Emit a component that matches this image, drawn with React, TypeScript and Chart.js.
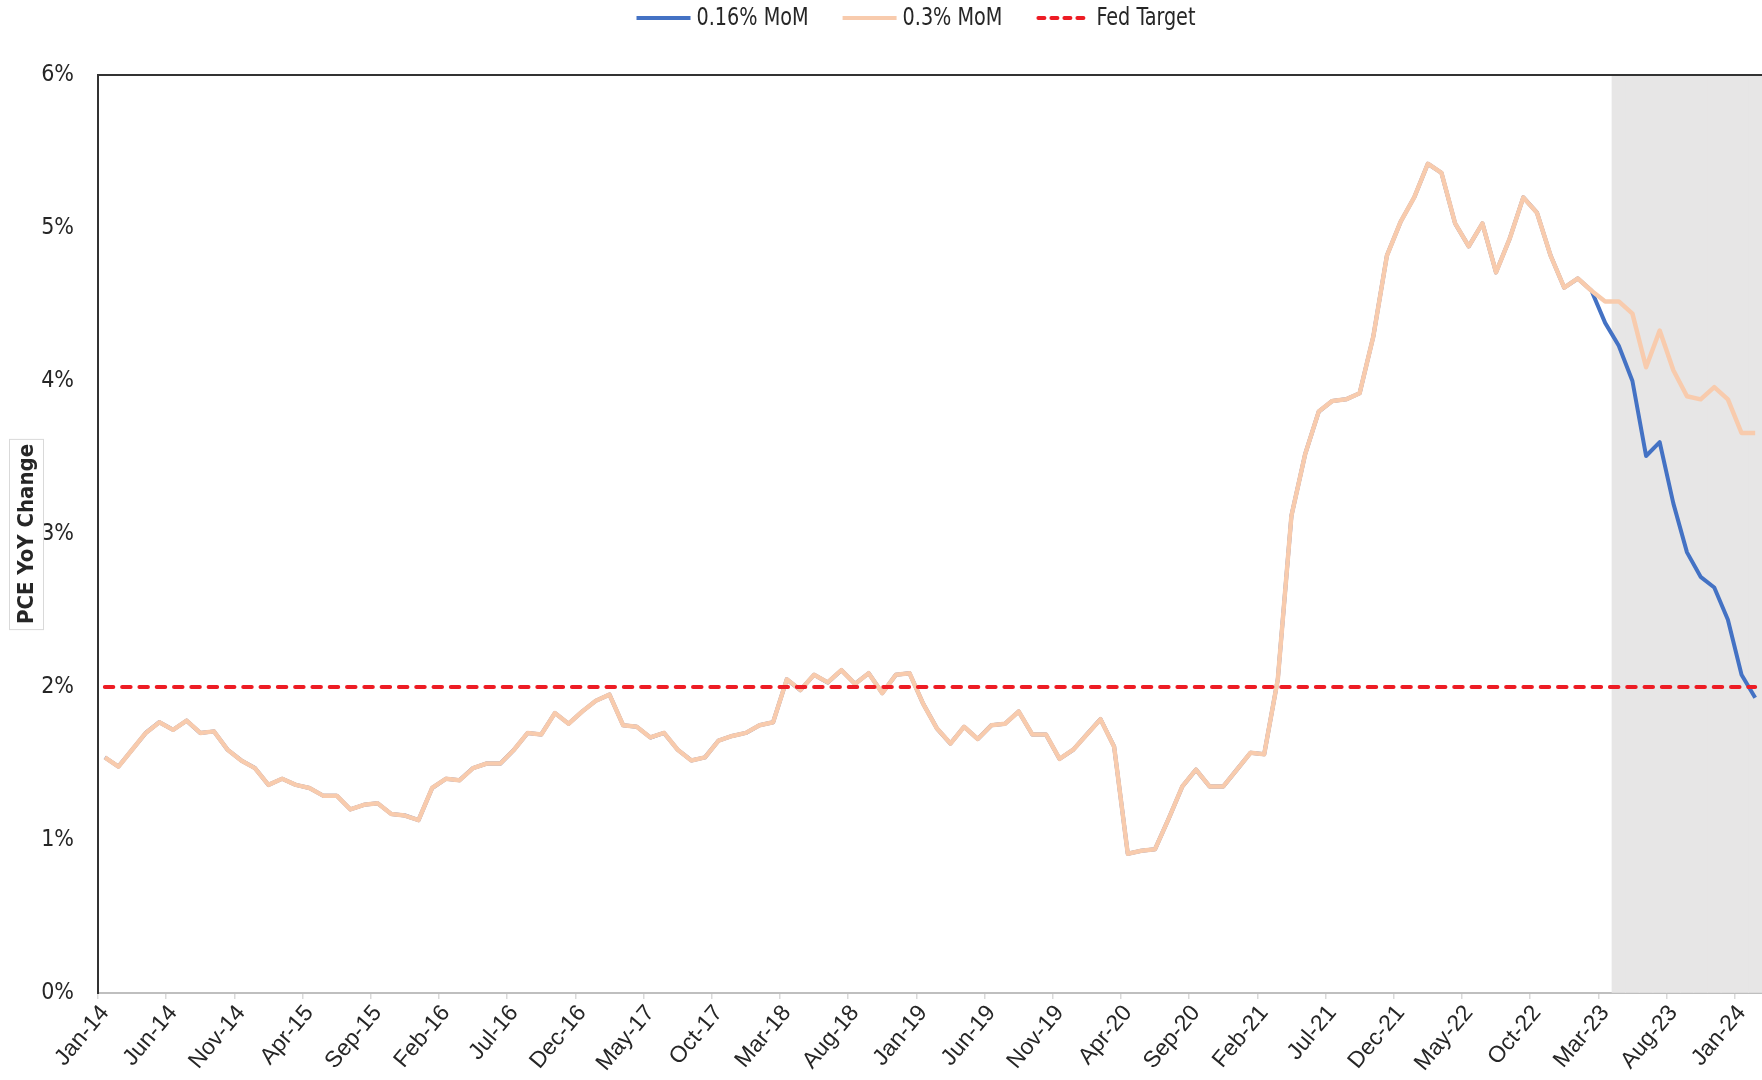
import React, { useEffect, useRef } from "react";
import { Chart, registerables } from "chart.js";

Chart.register(...registerables);

const NARROW = "'Liberation Sans Narrow', 'DejaVu Sans Condensed', 'Roboto Condensed', 'Liberation Sans', sans-serif";
const REGULAR = "'Liberation Sans', Arial, sans-serif";

const MONTHS = ["Jan", "Feb", "Mar", "Apr", "May", "Jun", "Jul", "Aug", "Sep", "Oct", "Nov", "Dec"];
const YEARS = ["14", "15", "16", "17", "18", "19", "20", "21", "22", "23", "24"];
const LAST_LABEL = "Feb-24";

const LABELS: string[] = [];
outer: for (const y of YEARS) {
  for (const m of MONTHS) {
    LABELS.push(`${m}-${y}`);
    if (`${m}-${y}` === LAST_LABEL) break outer;
  }
}

// Jan-14 .. Feb-23 (shared history)
const HISTORY = [
  1.54, 1.48, 1.59, 1.70, 1.77, 1.72, 1.78, 1.70, 1.71, 1.59, 1.52, 1.47,
  1.36, 1.40, 1.36, 1.34, 1.29, 1.29, 1.20, 1.23, 1.24, 1.17, 1.16, 1.13,
  1.34, 1.40, 1.39, 1.47, 1.50, 1.50, 1.59, 1.70, 1.69, 1.83, 1.76, 1.84,
  1.91, 1.95, 1.75, 1.74, 1.67, 1.70, 1.59, 1.52, 1.54, 1.65, 1.68, 1.70,
  1.75, 1.77, 2.05, 1.98, 2.08, 2.03, 2.11, 2.02, 2.09, 1.96, 2.08, 2.09,
  1.89, 1.73, 1.63, 1.74, 1.66, 1.75, 1.76, 1.84, 1.69, 1.69, 1.53, 1.59,
  1.69, 1.79, 1.61, 0.91, 0.93, 0.94, 1.14, 1.35, 1.46, 1.35, 1.35, 1.46,
  1.57, 1.56, 2.05, 3.12, 3.52, 3.80, 3.87, 3.88, 3.92, 4.29, 4.82, 5.04,
  5.20, 5.42, 5.36, 5.03, 4.88, 5.03, 4.71, 4.93, 5.20, 5.10, 4.82, 4.61,
  4.67, 4.59,
];

// Mar-23 .. Feb-24
const BLUE_FORECAST = [4.38, 4.23, 4.00, 3.51, 3.60, 3.20, 2.88, 2.72, 2.65, 2.44, 2.08, 1.93];
const PEACH_FORECAST = [4.52, 4.52, 4.44, 4.09, 4.33, 4.07, 3.90, 3.88, 3.96, 3.88, 3.66, 3.66];

const FED_TARGET = 2;
const SHADE_START = "Apr-23";
const Y_MIN = 0;
const Y_MAX = 6;
const Y_STEP = 1;
const X_LABEL_EVERY = 5;

const BLUE_SERIES = [...HISTORY, ...BLUE_FORECAST];
const PEACH_SERIES = [...HISTORY, ...PEACH_FORECAST];
const FED_SERIES = LABELS.map(() => FED_TARGET);
const shadeIdx = LABELS.indexOf(SHADE_START);
const SHADE_SERIES = LABELS.map((_, i) => (i >= shadeIdx ? Y_MAX : null));

const legendPlugin = {
  id: "customLegend",
  afterDraw(chart: any) {
    const ctx = chart.ctx as CanvasRenderingContext2D;
    const items = chart.data.datasets.filter((d: any) => d.showInLegend);
    ctx.save();
    ctx.font = `24px ${NARROW}`;
    const sx = 0.89;
    const lineLen = 54;
    const gapText = 6;
    const gapItem = 34;
    const widths = items.map((d: any) => lineLen + gapText + ctx.measureText(d.label).width * sx);
    const total = widths.reduce((a: number, b: number) => a + b, 0) + gapItem * (items.length - 1);
    const center = (chart.width + 70) / 2;
    let x = center - total / 2;
    const y = 18;
    items.forEach((d: any, i: number) => {
      ctx.beginPath();
      ctx.setLineDash(d.legendDash || []);
      ctx.lineWidth = 4;
      ctx.lineCap = d.legendDash ? "round" : "butt";
      ctx.strokeStyle = d.borderColor;
      ctx.moveTo(x + (d.legendDash ? 2 : 0), y);
      ctx.lineTo(x + lineLen, y);
      ctx.stroke();
      ctx.setLineDash([]);
      ctx.fillStyle = "#262626";
      ctx.textBaseline = "middle";
      ctx.textAlign = "left";
      ctx.save();
      ctx.translate(x + lineLen + gapText, y + 1);
      ctx.scale(sx, 1);
      ctx.fillText(d.label, 0, 0);
      ctx.restore();
      x += widths[i] + gapItem;
    });
    ctx.restore();
  },
};

const framePlugin = {
  id: "frame",
  afterDraw(chart: any) {
    const ctx = chart.ctx as CanvasRenderingContext2D;
    const a = chart.chartArea;
    ctx.save();
    ctx.strokeStyle = "#333333";
    ctx.lineWidth = 2;
    ctx.beginPath();
    ctx.moveTo(a.left - 1, a.top);
    ctx.lineTo(a.right, a.top);
    ctx.stroke();

    // y-axis title with box
    const cy = (a.top + a.bottom) / 2;
    const cx = 26;
    ctx.font = `bold 22px ${NARROW}`;
    const title = "PCE YoY Change";
    const tw = ctx.measureText(title).width;
    ctx.strokeStyle = "#d9d9d9";
    ctx.lineWidth = 1;
    ctx.fillStyle = "#ffffff";
    const bw = 34;
    const bh = tw + 10;
    ctx.fillRect(cx - bw / 2, cy - bh / 2, bw, bh);
    ctx.strokeRect(cx - bw / 2 + 0.5, cy - bh / 2 + 0.5, bw, bh);
    ctx.translate(cx, cy);
    ctx.rotate(-Math.PI / 2);
    ctx.fillStyle = "#262626";
    ctx.textAlign = "center";
    ctx.textBaseline = "middle";
    ctx.fillText(title, 0, 1);
    ctx.restore();
  },
};

export default function App() {
  const ref = useRef<HTMLCanvasElement | null>(null);

  useEffect(() => {
    document.body.style.margin = "0";
    document.body.style.overflow = "hidden";
    if (!ref.current) return;
    const chart = new Chart(ref.current, {
      type: "line",
      data: {
        labels: LABELS,
        datasets: [
          {
            type: "line",
            label: "0.16% MoM",
            data: BLUE_SERIES,
            borderColor: "#4472c4",
            backgroundColor: "#4472c4",
            borderWidth: 4,
            pointRadius: 0,
            tension: 0,
            borderJoinStyle: "round",
            order: 2,
            showInLegend: true,
          } as any,
          {
            type: "line",
            label: "0.3% MoM",
            data: PEACH_SERIES,
            borderColor: "#f8cbad",
            backgroundColor: "#f8cbad",
            borderWidth: 4.5,
            pointRadius: 0,
            tension: 0,
            borderJoinStyle: "round",
            order: 1,
            showInLegend: true,
          } as any,
          {
            type: "line",
            label: "Fed Target",
            data: FED_SERIES,
            borderColor: "#ed1c24",
            backgroundColor: "#ed1c24",
            borderWidth: 4,
            borderDash: [8.5, 8.8],
            borderCapStyle: "round",
            legendDash: [6, 7],
            pointRadius: 0,
            tension: 0,
            order: 0,
            showInLegend: true,
          } as any,
          {
            type: "bar",
            label: "Forecast",
            data: SHADE_SERIES,
            backgroundColor: "#e7e6e6",
            borderWidth: 0,
            barPercentage: 1,
            categoryPercentage: 1,
            order: 10,
            showInLegend: false,
          } as any,
        ],
      },
      options: {
        animation: false,
        responsive: false,
        layout: { padding: { top: 75, left: 0, right: 0, bottom: 0 } },
        plugins: {
          legend: { display: false },
          tooltip: { enabled: false },
        },
        scales: {
          x: {
            type: "category",
            offset: true,
            grid: {
              offset: true,
              drawOnChartArea: false,
              drawTicks: true,
              tickLength: 6,
              lineWidth: 1.5,
              color: (c: any) => (c.index % X_LABEL_EVERY === 0 ? "#d9d9d9" : "rgba(0,0,0,0)"),
            },
            border: { display: true, color: "#bfbfbf", width: 2 },
            ticks: {
              autoSkip: false,
              minRotation: 50,
              maxRotation: 50,
              padding: 1,
              color: "#262626",
              font: { family: REGULAR, size: 23 },
              callback: function (this: any, value: any, index: number) {
                return index % X_LABEL_EVERY === 0 ? this.getLabelForValue(value) : "";
              },
            },
            afterFit: (scale: any) => {
              scale.height = 87;
              scale.paddingRight = 0;
            },
          },
          y: {
            min: Y_MIN,
            max: Y_MAX,
            ticks: {
              stepSize: Y_STEP,
              padding: 24,
              color: "#262626",
              font: { family: NARROW, size: 23 },
              callback: (v: any) => `${v}%`,
            },
            grid: { display: true, drawOnChartArea: false, drawTicks: false, color: "rgba(0,0,0,0)" },
            border: { display: true, color: "#333333", width: 2 },
            afterFit: (scale: any) => {
              scale.width = 98;
            },
          },
        },
      } as any,
      plugins: [legendPlugin, framePlugin],
    });
    return () => chart.destroy();
  }, []);

  return (
    <div style={{ width: 1762, height: 1080, background: "#ffffff" }}>
      <canvas ref={ref} width={1762} height={1080} />
    </div>
  );
}
